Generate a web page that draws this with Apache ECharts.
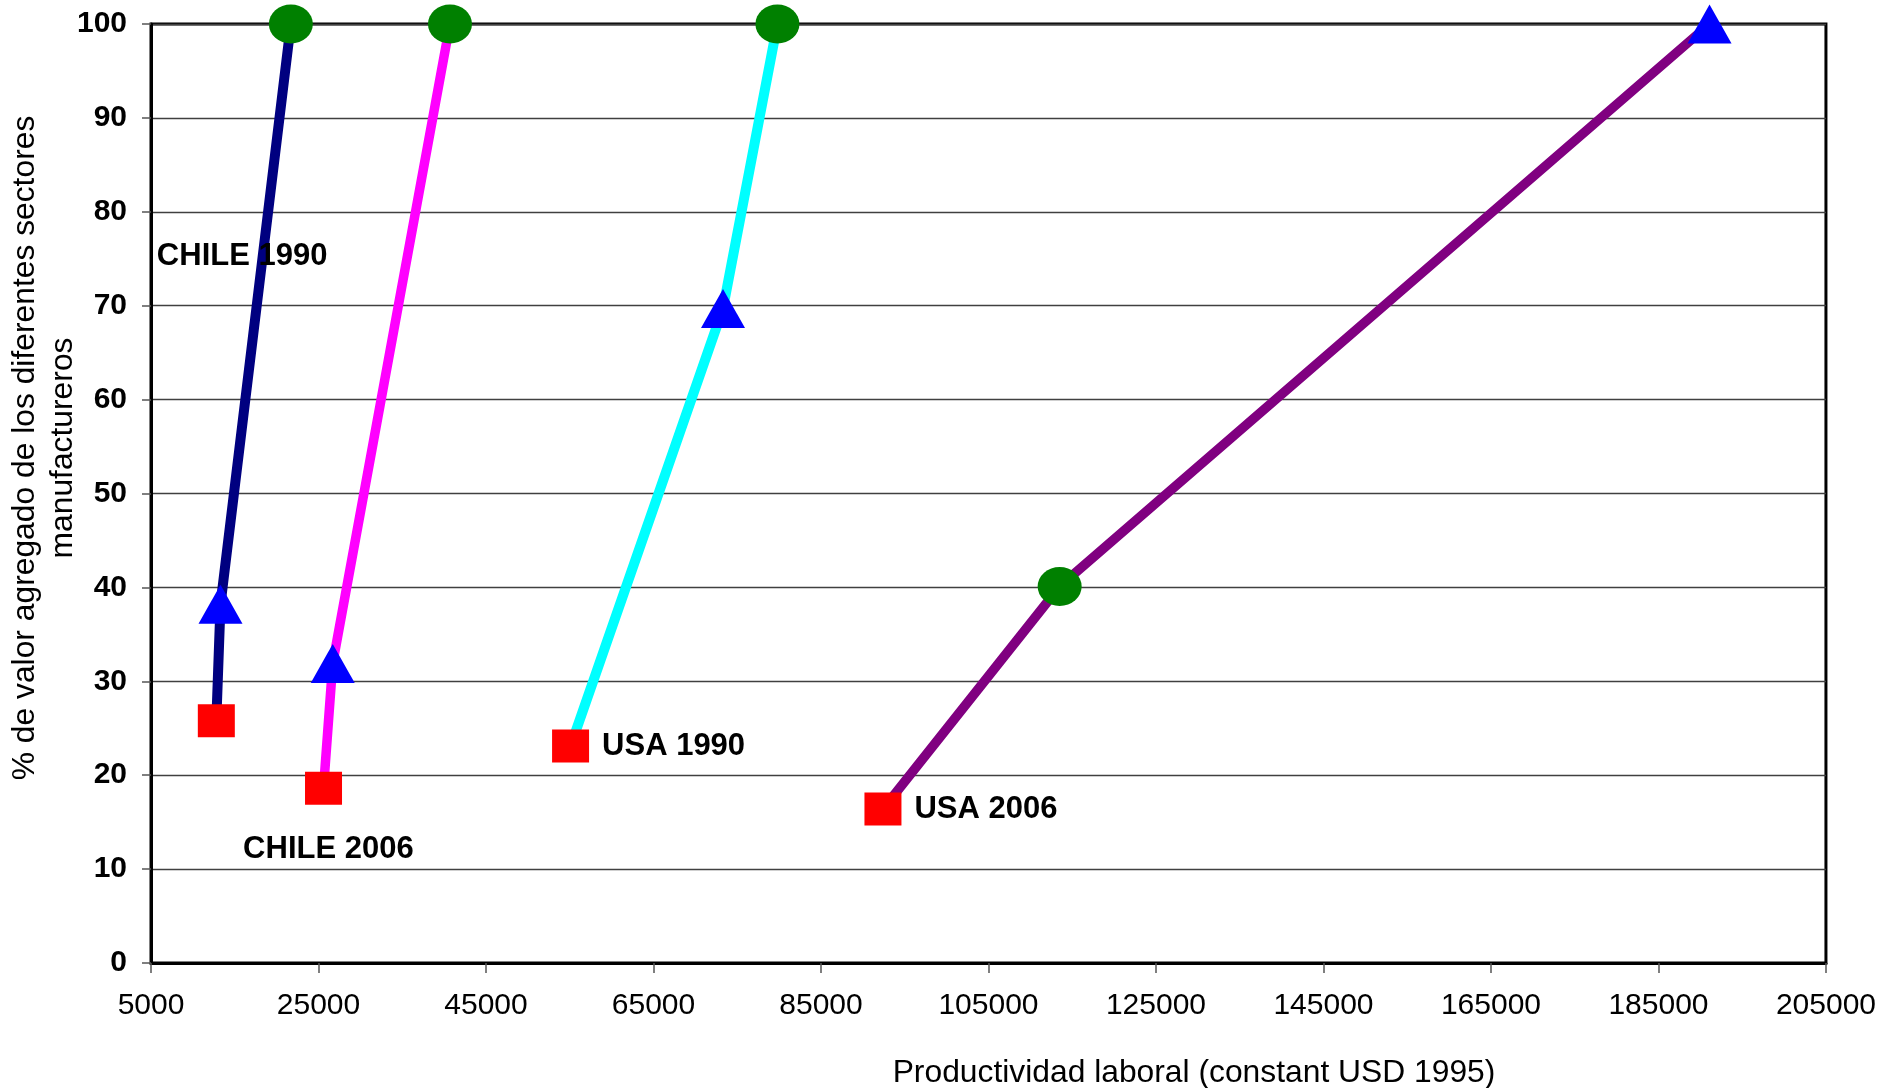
<!DOCTYPE html>
<html>
<head>
<meta charset="utf-8">
<script src="https://cdn.jsdelivr.net/npm/echarts@6/dist/echarts.min.js"></script>
<style>
  html, body { margin: 0; padding: 0; background: #ffffff; }
  #chart { width: 1879px; height: 1088px; }
</style>
</head>
<body>
<div id="chart"></div>
<script>
// Productivity (constant USD 1995) vs. cumulative share of manufacturing value added
const xTickValues = [5000, 25000, 45000, 65000, 85000, 105000, 125000, 145000, 165000, 185000, 205000];

const chile1990X = [12800, 13300, 21700];
const chile1990Y = [25.8, 38.2, 100];
const chile2006X = [25600, 26700, 40700];
const chile2006Y = [18.6, 31.9, 100];
const usa1990X = [55100, 73300, 79800];
const usa1990Y = [23.1, 69.7, 100];
const usa2006X = [92400, 113500, 191100];
const usa2006Y = [16.4, 40.1, 100];

// marker kind of each point, in drawing order
const kindsStandard = ['square', 'triangle', 'circle'];
const kindsUsa2006 = ['square', 'circle', 'triangle'];

// free-standing series captions (data units)
const captionNames = ['CHILE 1990', 'CHILE 2006'];
const captionX = [5700, 16000];
const captionY = [75.2, 12.1];

const yTitle = '% de valor agregado de los diferentes sectores\nmanufactureros';
const xTitle = 'Productividad laboral (constant USD 1995)';

const FONT = '"Liberation Sans", Arial, sans-serif';

const markerStyle = {
  square:   { symbol: 'rect', size: [37, 33], color: '#FF0000' },
  triangle: { symbol: 'triangle', size: [44, 39], color: '#0000FF' },
  circle:   { symbol: 'path://M0,50A50,50,0,1,1,100,50A50,50,0,1,1,0,50Z', size: [44, 39], color: '#008000' }
};

const labelFont = { fontFamily: FONT, fontWeight: 'bold', fontSize: 31, color: '#000000', opacity: 1 };

function buildPoints(xs, ys, kinds, captionOnFirst) {
  return xs.map(function (x, i) {
    const m = markerStyle[kinds[i]];
    const item = {
      value: [x, ys[i]],
      symbol: m.symbol,
      symbolSize: m.size,
      itemStyle: { color: m.color, opacity: 1 }
    };
    if (captionOnFirst && i === 0) {
      item.label = Object.assign({
        show: true, position: 'right', distance: 13, formatter: '{a}'
      }, labelFont);
    }
    return item;
  });
}

function lineSeries(name, xs, ys, kinds, color, width, captionOnFirst) {
  return {
    name: name,
    type: 'line',
    data: buildPoints(xs, ys, kinds, captionOnFirst),
    lineStyle: { color: color, width: width },
    itemStyle: { color: color },
    emphasis: { disabled: true },
    z: 3
  };
}

const chart = echarts.init(document.getElementById('chart'), null, { renderer: 'canvas' });

chart.setOption({
  animation: false,
  backgroundColor: '#ffffff',
  grid: {
    left: 151, top: 24, width: 1680, height: 939,
    show: true, borderColor: '#000', borderWidth: 3, backgroundColor: 'transparent'
  },
  xAxis: {
    type: 'value',
    min: 5000, max: 205000,
    axisLine: { show: true, lineStyle: { color: '#000', width: 3 } },
    axisTick: { show: true, length: 10, customValues: xTickValues, lineStyle: { color: '#555', width: 1.5 } },
    axisLabel: {
      customValues: xTickValues, margin: 28,
      formatter: function (v) { return String(v); },
      fontFamily: FONT, fontSize: 30, color: '#000'
    },
    splitLine: { show: false }
  },
  yAxis: {
    type: 'value',
    min: 0, max: 100, interval: 10,
    axisLine: { show: true, lineStyle: { color: '#000', width: 3 } },
    axisTick: { show: true, length: 9, lineStyle: { color: '#555', width: 1.5 } },
    axisLabel: {
      margin: 24,
      fontFamily: FONT, fontWeight: 'bold', fontSize: 30, color: '#000'
    },
    splitLine: { show: true, lineStyle: { color: '#404040', width: 1.3 } }
  },
  graphic: [
    {
      type: 'text', x: 44, y: 448, rotation: Math.PI / 2, silent: true,
      style: {
        text: yTitle, align: 'center', verticalAlign: 'middle', lineHeight: 38,
        fontFamily: FONT, fontSize: 31.8, fill: '#000'
      }
    },
    {
      type: 'text', x: 1194, y: 1073, silent: true,
      style: {
        text: xTitle, align: 'center', verticalAlign: 'middle',
        fontFamily: FONT, fontSize: 31.8, fill: '#000'
      }
    }
  ],
  series: [
    lineSeries('CHILE 1990', chile1990X, chile1990Y, kindsStandard, '#000080', 10, false),
    lineSeries('CHILE 2006', chile2006X, chile2006Y, kindsStandard, '#FF00FF', 9.5, false),
    lineSeries('USA 1990', usa1990X, usa1990Y, kindsStandard, '#00FFFF', 10, true),
    lineSeries('USA 2006', usa2006X, usa2006Y, kindsUsa2006, '#800080', 9.5, true),
    {
      name: 'captions',
      type: 'scatter',
      symbolSize: 0,
      silent: true,
      z: 5,
      itemStyle: { opacity: 1 },
      data: captionNames.map(function (n, i) { return { name: n, value: [captionX[i], captionY[i]] }; }),
      label: Object.assign({ show: true, position: 'right', distance: 0, formatter: '{b}' }, labelFont)
    }
  ]
});
</script>
</body>
</html>
